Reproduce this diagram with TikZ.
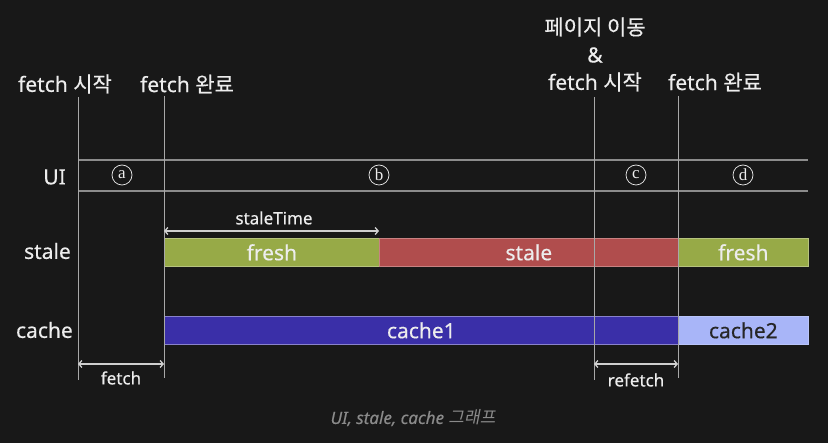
\documentclass[tikz,border=0pt]{standalone}
\usepackage{fontspec}
\setmainfont{Noto Sans}[FakeBold=0.35]
\newfontfamily\kr{Noto Sans CJK KR}[FakeBold=0.35]
\newfontfamily\krit{Noto Sans CJK KR}[FakeSlant=0.2]
\newfontfamily\serifletter{Liberation Serif}
\usetikzlibrary{arrows.meta}
\definecolor{bg}{HTML}{181818}
\definecolor{txt}{HTML}{EDEDED}
\definecolor{vline}{HTML}{A8A8A8}
\definecolor{uiline}{HTML}{8C8C8C}
\definecolor{arr}{HTML}{CFCFCF}
\definecolor{freshc}{HTML}{97AA47}
\definecolor{stalec}{HTML}{B04D4D}
\definecolor{cacheone}{HTML}{3A2FA8}
\definecolor{cachetwo}{HTML}{A8B5F8}
\definecolor{capc}{HTML}{8A8A8A}
\tikzset{
  lbl/.style={text=txt, font=\fontsize{21}{23}\selectfont, inner sep=0pt},
  rowlbl/.style={text=txt, font=\fontsize{21}{23}\selectfont, inner sep=0pt, anchor=east},
  bar/.style={anchor=north west, minimum height=28pt, inner sep=0pt, text=txt, font=\fontsize{21}{23}\selectfont, line width=0.7pt},
  small/.style={text=txt, font=\fontsize{17}{19}\selectfont, inner sep=0pt},
  vl/.style={draw=vline, line width=0.8pt},
  uil/.style={draw=uiline, line width=1.3pt},
  dim/.style={draw=arr, line width=1.3pt, {Straight Barb[length=3pt,width=7pt]}-{Straight Barb[length=3pt,width=7pt]}},
  circ/.style={circle, draw=txt, line width=0.7pt, minimum size=20pt, inner sep=0pt, text=txt, font=\serifletter\fontsize{17}{17}\selectfont}
}
\begin{document}
\begin{tikzpicture}[x=1pt,y=-1pt]
\fill[bg] (0,0) rectangle (828,443);
\useasboundingbox (0,0) rectangle (828,443);

% top labels
\node[lbl] (l1) at (65,84) {fetch {\kr 시작}};
\node[lbl] (l2) at (187,84) {fetch {\kr 완료}};
\node[lbl] (l3a) at (595,27) {\kr 페이지 이동};
\node[lbl] (l3b) at (595,55) {\&};
\node[lbl] (l3c) at (595,82) {fetch {\kr 시작}};
\node[lbl] (l4) at (715,82) {fetch {\kr 완료}};

% row labels
\node[rowlbl] (rui) at (66,177) {UI};
\node[rowlbl] (rstale) at (71,251) {stale};
\node[rowlbl] (rcache) at (73,330) {cache};

% UI lines
\coordinate (u1s) at (78,160); \coordinate (u1e) at (808,160);
\coordinate (u2s) at (78,191); \coordinate (u2e) at (808,191);
\draw[uil] (u1s) -- (u1e);
\draw[uil] (u2s) -- (u2e);

% circled letters
\node[circ] (ca) at (122,175) {a};
\node[circ] (cb) at (379,175) {b};
\node[circ] (cc) at (636,175) {c};
\node[circ] (cd) at (743,175) {d};

% stale bars
\node[bar, fill=freshc, draw=freshc!70!white, minimum width=215pt] (f1) at (164,238) {fresh};
\node[bar, fill=stalec, draw=stalec!70!white, minimum width=299pt] (s1) at (379,238) {stale};
\node[bar, fill=freshc, draw=freshc!70!white, minimum width=130pt] (f2) at (678,238) {fresh};

% cache bars
\node[bar, fill=cacheone, draw=cacheone!60!white, minimum width=514pt] (c1) at (164,316) {cache1};
\node[bar, fill=cachetwo, draw=cachetwo!80!white, minimum width=130pt, text=black!85] (c2) at (678,316) {cache2};

% vertical lines
\coordinate (v1t) at (78,97);  \coordinate (v1b) at (78,380);
\coordinate (v2t) at (164,96); \coordinate (v2b) at (164,378);
\coordinate (v3t) at (594,97); \coordinate (v3b) at (594,380);
\coordinate (v4t) at (678,96); \coordinate (v4b) at (678,378);
\draw[vl] (v1t) -- (v1b);
\draw[vl] (v2t) -- (v2b);
\draw[vl] (v3t) -- (v3b);
\draw[vl] (v4t) -- (v4b);

% dimension arrows
\coordinate (st1) at (164,231); \coordinate (st2) at (379,231);
\draw[dim] (st1) -- (st2);
\node[small] (stl) at (274,218) {staleTime};
\coordinate (fa1) at (78,364); \coordinate (fa2) at (164,364);
\draw[dim] (fa1) -- (fa2);
\node[small] (fal) at (121,378) {fetch};
\coordinate (ra1) at (594,364); \coordinate (ra2) at (678,364);
\draw[dim] (ra1) -- (ra2);
\node[small] (ral) at (636,380) {refetch};

% caption
\node[text=capc, font=\itshape\fontsize{17}{19}\selectfont, inner sep=0pt] (cap) at (413,418) {UI, stale, cache {\krit 그래프}};
\end{tikzpicture}
\end{document}
